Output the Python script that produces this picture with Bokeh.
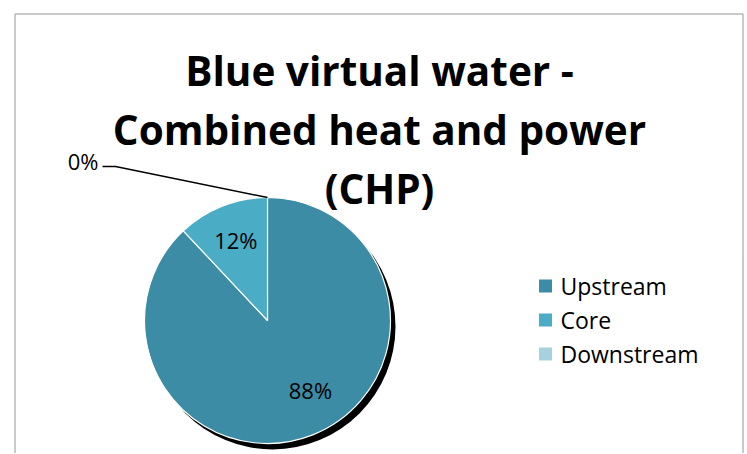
import numpy as np
from bokeh.plotting import figure
from bokeh.models import Range1d
from bokeh.core.properties import value
from bokeh.embed import file_html
from bokeh.resources import INLINE

# ---- data ----
categories = ["Upstream", "Core", "Downstream"]
shares = [88.0, 12.0, 0.0]          # percent of blue virtual water
colors = ["#3D8CA5", "#4BACC6", "#A8D1DF"]
title_lines = ["Blue virtual water -", "Combined heat and power", "(CHP)"]

# ---- layout (screen pixels) ----
W, H = 746, 453
OX, OY = 0, 0
FONT = "Open Sans"
cx, cy, R = 267.0, 320.0, 123.0
TDY = -8.0   # empirical baseline correction for text

def sy(y):  # screen y -> data y
    return -y

def ty(y):  # baseline screen y -> data y for text
    return -(y + TDY)

p = figure(width=W, height=H, x_range=Range1d(OX, OX + W), y_range=Range1d(-(OY + H), -OY),
           output_backend="svg", toolbar_location=None, x_axis_type=None, y_axis_type=None,
           min_border=0)
p.grid.visible = False
p.outline_line_color = None
p.background_fill_color = "white"
p.border_fill_color = "white"

# chart border
p.line(x=[14.5, 14.5, 742.5, 742.5], y=[sy(470), sy(13.5), sy(13.5), sy(470)],
       line_color="#B8B8B8", line_width=1.5)

# title
for i, t in enumerate(title_lines):
    p.text(x=[379], y=[ty(78 + 59 * i)], text=[t], text_font=value(FONT), text_font_style="bold",
           text_font_size="40.5px", text_align="center", text_baseline="alphabetic", text_color="#000000")

# pie
vals = np.array(shares)
frac = np.cumsum(np.concatenate([[0.0], vals])) / vals.sum()
starts = np.pi / 2 - 2 * np.pi * frac[:-1]
ends = np.pi / 2 - 2 * np.pi * frac[1:]
mids = (starts + ends) / 2
nz = vals > 0

# shadow
p.circle(x=[cx + 5], y=[sy(cy + 6)], radius=R, fill_color="black", line_color=None)
p.wedge(x=cx, y=sy(cy), radius=R,
        start_angle=list(starts[nz]), end_angle=list(ends[nz]), direction="clock",
        fill_color=[c for c, k in zip(colors, nz) if k], line_color="white", line_width=1.2)

# data labels
label_size = 22
nudges = [np.deg2rad(10.0), 0.0]
radii = [82.0, 86.0]
for j, i in enumerate(np.where(nz)[0]):
    a = mids[i] + nudges[j]
    lx = cx + radii[j] * np.cos(a)
    ly = cy - radii[j] * np.sin(a)
    p.text(x=[lx], y=[ty(ly + 0.36 * label_size)], text=[f"{shares[i]:.0f}%"], text_font=value(FONT),
           text_font_size=f"{label_size}px", text_align="center", text_baseline="alphabetic",
           text_color="#000000")

# zero slice label with leader line
for i in np.where(~nz)[0]:
    a = starts[i]
    ex, ey = cx + R * np.cos(a), cy - R * np.sin(a)
    p.line(x=[ex, 115, 102], y=[sy(ey), sy(166), sy(166)], line_color="black", line_width=1.5)
    p.text(x=[98], y=[ty(168)], text=[f"{shares[i]:.0f}%"], text_font=value(FONT),
           text_font_size=f"{label_size}px", text_align="right", text_baseline="alphabetic",
           text_color="#000000")

# legend
lx0, ly0, dy = 545.0, 285.5, 34.0
for k, (cat, col) in enumerate(zip(categories, colors)):
    yy = ly0 + dy * k
    p.rect(x=[lx0], y=[sy(yy)], width=13, height=13, fill_color=col, line_color=None)
    p.text(x=[560], y=[ty(yy + 7.5)], text=[cat], text_font=value(FONT), text_font_size="23px",
           text_align="left", text_baseline="alphabetic", text_color="#000000")

open("out.html", "w").write(file_html(p, INLINE))
